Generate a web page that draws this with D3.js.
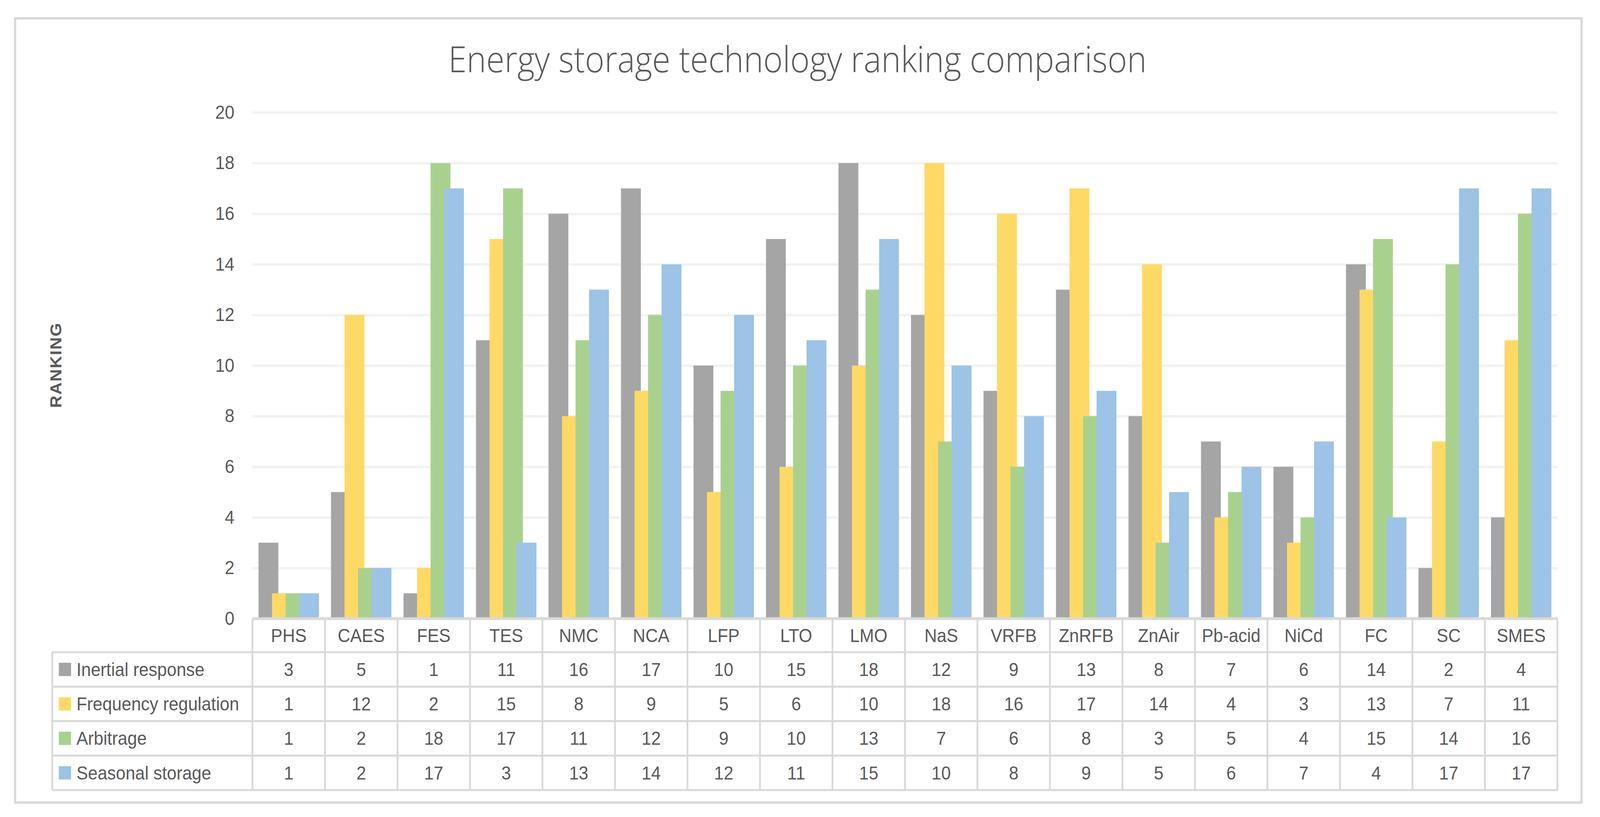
<!DOCTYPE html>
<html lang="en">
<head>
  <meta charset="UTF-8" />
  <title>Energy storage technology ranking comparison</title>
  <script src="https://d3js.org/d3.v7.min.js"></script>
  <style>
    html, body { margin: 0; padding: 0; background: #fff; overflow: hidden; }
    #chart { display: block; width: 100vw; height: 100vh; }
    svg text { fill: #595959; }
    .lbl { font-family: "Liberation Sans", Arial, sans-serif; font-size: 48px; }
  </style>
</head>
<body>
  <svg id="chart" viewBox="0 0 4436 2092" preserveAspectRatio="none"></svg>
  <script>
    const width = 4436;
    const height = 2092;

    // data
    const categories = ["PHS", "CAES", "FES", "TES", "NMC", "NCA", "LFP", "LTO", "LMO", "NaS",
      "VRFB", "ZnRFB", "ZnAir", "Pb-acid", "NiCd", "FC", "SC", "SMES"];
    const seriesNames = ["Inertial response", "Frequency regulation", "Arbitrage", "Seasonal storage"];
    const inertial   = [3, 5, 1, 11, 16, 17, 10, 15, 18, 12, 9, 13, 8, 7, 6, 14, 2, 4];
    const frequency  = [1, 12, 2, 15, 8, 9, 5, 6, 10, 18, 16, 17, 14, 4, 3, 13, 7, 11];
    const arbitrage  = [1, 2, 18, 17, 11, 12, 9, 10, 13, 7, 6, 8, 3, 5, 4, 15, 14, 16];
    const seasonal   = [1, 2, 17, 3, 13, 14, 12, 11, 15, 10, 8, 9, 5, 6, 7, 4, 17, 17];
    const yTicks = [0, 2, 4, 6, 8, 10, 12, 14, 16, 18, 20];

    const seriesValues = [inertial, frequency, arbitrage, seasonal];
    const colors = ["#A5A5A5", "#FFD966", "#A9D18E", "#9DC3E6"];

    const svg = d3.select("#chart");

    // chart border
    svg.append("rect")
      .attr("x", 42).attr("y", 47)
      .attr("width", 4343).attr("height", 2008)
      .attr("fill", "#fff")
      .attr("stroke", "#D9D9D9")
      .attr("stroke-width", 6);

    const plotLeft = 700, plotRight = 4318, plotTop = 288, plotBottom = 1584;

    const x = d3.scaleBand().domain(categories).range([plotLeft, plotRight]).padding(0);
    const y = d3.scaleLinear().domain([0, 20]).range([plotBottom, plotTop]);

    // title
    svg.append("text")
      .attr("x", 2211).attr("y", 185)
      .attr("text-anchor", "middle")
      .style("font-family", "'Open Sans', sans-serif")
      .style("font-weight", 300)
      .style("font-size", "92px")
      .text("Energy storage technology ranking comparison");

    // y axis + gridlines
    const yAxis = d3.axisLeft(y)
      .tickValues(yTicks)
      .tickSize(-(plotRight - plotLeft))
      .tickPadding(50);

    const gy = svg.append("g")
      .attr("transform", `translate(${plotLeft},0)`)
      .call(yAxis);
    gy.select(".domain").remove();
    gy.selectAll(".tick line").attr("stroke", "#F2F2F2").attr("stroke-width", 6);
    gy.selectAll(".tick text")
      .attr("class", "lbl")
      .attr("fill", "#595959");

    // axis title
    svg.append("text")
      .attr("transform", "translate(170,935) rotate(-90)")
      .attr("text-anchor", "middle")
      .style("font-family", "'Liberation Sans', Arial, sans-serif")
      .style("font-weight", "bold")
      .style("font-size", "44px")
      .style("letter-spacing", "2px")
      .text("RANKING");

    // bars: Excel-style overlapping clustered columns
    const bw = x.bandwidth();
    const barW = bw * 0.2736;
    const step = bw * 0.1866;
    const groupW = step * 3 + barW;

    seriesValues.forEach((vals, si) => {
      svg.append("g")
        .selectAll("rect")
        .data(vals)
        .join("rect")
        .attr("x", (d, i) => x(categories[i]) + (bw - groupW) / 2 + si * step)
        .attr("y", d => y(d))
        .attr("width", barW)
        .attr("height", d => y(0) - y(d))
        .attr("fill", colors[si]);
    });

    // data table
    const rowTop = 1670, rowBottom = 2023, tableLeft = 145;
    const rows = d3.scaleBand().domain(seriesNames).range([rowTop, rowBottom]);
    const grid = svg.append("g").attr("stroke", "#D9D9D9").attr("stroke-width", 5);

    // horizontal axis line
    grid.append("line")
      .attr("x1", plotLeft).attr("x2", plotRight)
      .attr("y1", y(0)).attr("y2", y(0))
      .attr("stroke-width", 7);

    // row separators
    seriesNames.concat(["end"]).forEach((s, i) => {
      const yy = i < seriesNames.length ? rows(s) : rowBottom;
      grid.append("line")
        .attr("x1", tableLeft).attr("x2", plotRight)
        .attr("y1", yy).attr("y2", yy);
    });

    // column separators
    categories.forEach(c => {
      grid.append("line")
        .attr("x1", x(c)).attr("x2", x(c))
        .attr("y1", y(0)).attr("y2", rowBottom);
    });
    grid.append("line")
      .attr("x1", plotRight).attr("x2", plotRight)
      .attr("y1", y(0)).attr("y2", rowBottom);
    grid.append("line")
      .attr("x1", tableLeft).attr("x2", tableLeft)
      .attr("y1", rowTop).attr("y2", rowBottom);

    // category labels
    svg.append("g")
      .selectAll("text")
      .data(categories)
      .join("text")
      .attr("class", "lbl")
      .attr("x", d => x(d) + bw / 2)
      .attr("y", (y(0) + rowTop) / 2)
      .attr("dy", "0.35em")
      .attr("text-anchor", "middle")
      .text(d => d);

    // legend keys + row labels + values
    seriesNames.forEach((s, si) => {
      const cy = rows(s) + rows.bandwidth() / 2;
      svg.append("rect")
        .attr("x", 163).attr("y", cy - 17)
        .attr("width", 34).attr("height", 34)
        .attr("fill", colors[si]);
      svg.append("text")
        .attr("class", "lbl")
        .attr("x", 212).attr("y", cy)
        .attr("dy", "0.35em")
        .text(s);
      svg.append("g")
        .selectAll("text")
        .data(seriesValues[si])
        .join("text")
        .attr("class", "lbl")
        .attr("x", (d, i) => x(categories[i]) + bw / 2)
        .attr("y", cy)
        .attr("dy", "0.35em")
        .attr("text-anchor", "middle")
        .text(d => d);
    });
  </script>
</body>
</html>
